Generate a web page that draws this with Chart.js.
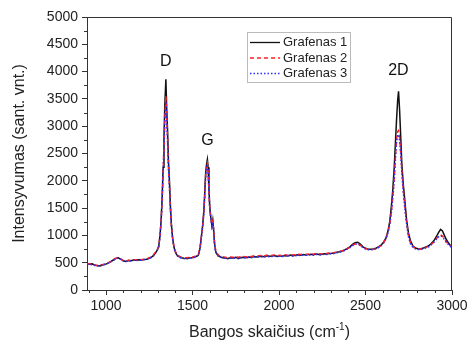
<!DOCTYPE html>
<html>
<head>
<meta charset="utf-8">
<script src="https://cdn.jsdelivr.net/npm/chart.js@4"></script>
<style>
  html, body { margin:0; padding:0; background:#fff; }
  #wrap { width:475px; height:349px; position:relative; }
</style>
</head>
<body>
<div id="wrap"><canvas id="chart"></canvas></div>
<script>
// --- Data ---
const WAVENUMBER = [
  890,905,920,935,950,965,980,995,1010,1025,
  1040,1055,1070,1085,1100,1115,1130,1145,1160,1175,
  1190,1205,1220,1235,1250,1262,1274,1286,1296,1305,
  1312,1318,1324,1330,1335,1340,1346,1351,1356,1361,
  1366,1372,1378,1385,1392,1400,1410,1422,1435,1450,
  1465,1480,1495,1510,1522,1534,1544,1552,1559,1565,
  1571,1576,1581,1586,1590,1595,1600,1606,1612,1617,
  1622,1627,1633,1640,1650,1662,1675,1690,1705,1720,
  1735,1750,1765,1780,1795,1810,1825,1840,1855,1870,
  1885,1900,1915,1930,1945,1960,1975,1990,2005,2020,
  2035,2050,2065,2080,2095,2110,2125,2140,2155,2170,
  2185,2200,2215,2230,2245,2260,2275,2290,2305,2320,
  2335,2350,2365,2380,2395,2410,2425,2440,2455,2470,
  2485,2500,2515,2530,2545,2560,2575,2590,2605,2618,
  2630,2640,2650,2658,2666,2673,2680,2686,2691,2697,
  2703,2710,2718,2727,2737,2748,2760,2775,2790,2805,
  2820,2835,2850,2865,2880,2895,2910,2922,2934,2945,
  2956,2968,2980,2990,3000
];
const GRAFENAS_1 = [
  485,470,478,455,450,442,458,470,488,515,
  545,575,590,565,535,522,540,535,548,545,
  552,548,560,565,580,600,630,680,730,800,
  1000,1250,1650,2250,2800,3400,3860,3300,2900,2350,
  2050,1550,1200,950,800,700,640,610,590,580,
  575,585,590,600,615,640,780,1000,1200,1430,
  1800,2150,2300,2390,2250,1850,1500,1320,1180,1280,
  1100,860,720,660,625,605,590,585,578,590,
  585,598,580,595,600,592,605,598,612,605,
  615,620,610,625,618,622,630,615,625,620,
  632,625,640,628,635,645,638,650,642,648,
  655,645,660,652,650,662,658,668,672,678,
  690,700,715,735,760,790,835,865,875,840,
  790,765,750,745,752,765,790,820,880,950,
  1080,1250,1550,1850,2250,2700,3150,3480,3640,3300,
  2850,2300,1950,1650,1300,1050,900,800,770,750,
  755,770,790,810,850,900,980,1050,1110,1080,
  1000,920,860,820,790
];
const GRAFENAS_2 = [
  478,482,465,462,445,455,465,480,495,520,
  552,580,585,570,540,530,545,545,555,552,
  560,555,565,572,590,612,645,690,740,810,
  1000,1230,1600,2150,2650,3150,3550,3150,2750,2250,
  1950,1500,1180,950,810,710,655,622,600,595,
  590,598,600,612,630,655,790,1000,1180,1400,
  1750,2100,2260,2320,2200,1800,1480,1330,1200,1260,
  1120,880,740,680,640,620,610,600,595,605,
  600,612,598,610,615,605,620,612,625,618,
  628,632,622,640,630,635,642,628,638,632,
  645,638,652,640,648,656,650,660,652,658,
  665,655,670,662,660,672,668,676,680,686,
  695,705,718,735,758,785,820,845,850,820,
  780,760,745,742,748,760,782,815,870,940,
  1060,1200,1450,1720,2050,2450,2780,2900,2920,2800,
  2550,2200,1850,1550,1250,1000,860,790,760,750,
  752,762,780,800,835,880,940,990,1010,990,
  940,880,840,810,790
];
const GRAFENAS_3 = [
  470,468,460,450,440,448,460,468,485,510,
  540,570,585,560,530,518,535,532,545,540,
  548,545,555,562,575,595,625,675,725,790,
  980,1220,1600,2150,2650,3100,3450,3100,2700,2200,
  1920,1480,1160,930,790,690,630,600,585,575,
  570,580,585,595,610,635,770,980,1170,1390,
  1740,2080,2240,2300,2180,1780,1460,1300,1170,1240,
  1080,850,710,650,615,598,585,578,572,582,
  578,590,575,588,592,585,598,590,605,598,
  608,612,602,618,610,615,622,608,618,612,
  625,618,632,620,628,638,630,642,635,640,
  648,638,652,645,642,655,650,660,664,670,
  682,692,705,725,750,775,812,838,845,815,
  775,752,738,735,742,755,778,810,865,935,
  1050,1190,1430,1700,2020,2400,2720,2830,2850,2740,
  2500,2150,1800,1500,1220,980,845,780,750,742,
  745,755,772,792,828,870,930,975,995,975,
  925,870,830,800,780
];
const SERIES_NAMES = ['Grafenas 1', 'Grafenas 2', 'Grafenas 3'];
const X_TICKS = [1000, 1500, 2000, 2500, 3000];
const PEAK_NAMES = ['D', 'G', '2D'];
const PEAK_X = [1346, 1586, 2690];
const PEAK_Y = [4180, 2730, 4010];

const FONT = '"Liberation Sans", Arial, sans-serif';
const AXIS = '#333';

const pts = (ys) => WAVENUMBER.map((x, i) => ({ x, y: ys[i] }));

// frame, minor ticks, peak labels, legend, x title
const decor = {
  id: 'decor',
  afterDraw(chart) {
    const { ctx, chartArea: a, scales: { x: xs, y: ys } } = chart;
    ctx.save();
    ctx.strokeStyle = AXIS;
    ctx.lineWidth = 1;
    ctx.beginPath();
    ctx.moveTo(Math.round(a.left) + 0.5, Math.round(a.top) + 0.5);
    ctx.lineTo(Math.round(a.right) - 0.5, Math.round(a.top) + 0.5);
    ctx.lineTo(Math.round(a.right) - 0.5, Math.round(a.bottom));
    ctx.stroke();

    // minor ticks
    ctx.beginPath();
    for (let v = 900; v < 3000; v += 100) {
      if (v % 500 === 0) continue;
      const px = Math.round(xs.getPixelForValue(v)) + 0.5;
      ctx.moveTo(px, a.bottom); ctx.lineTo(px, a.bottom + 3);
    }
    for (let v = 250; v < 5000; v += 500) {
      const py = Math.round(ys.getPixelForValue(v)) + 0.5;
      ctx.moveTo(a.left, py); ctx.lineTo(a.left - 3, py);
    }
    ctx.stroke();

    // peak labels
    ctx.fillStyle = '#111';
    ctx.font = '16px ' + FONT;
    ctx.textAlign = 'center';
    ctx.textBaseline = 'middle';
    PEAK_NAMES.forEach((t, i) => {
      ctx.fillText(t, xs.getPixelForValue(PEAK_X[i]), ys.getPixelForValue(PEAK_Y[i]));
    });

    // legend
    const lx = 247.5, ly = 32.5, lw = 103, lh = 50;
    ctx.strokeStyle = '#bbb';
    ctx.lineWidth = 1;
    ctx.strokeRect(lx, ly, lw, lh);
    ctx.font = '13px ' + FONT;
    ctx.textAlign = 'left';
    chart.data.datasets.forEach((ds, i) => {
      const yy = 42.5 + i * 15.5;
      ctx.strokeStyle = ds.borderColor;
      ctx.lineWidth = 1.3;
      ctx.setLineDash(ds.borderDash || []);
      ctx.beginPath();
      ctx.moveTo(250, yy); ctx.lineTo(280, yy);
      ctx.stroke();
      ctx.setLineDash([]);
      ctx.fillStyle = '#222';
      ctx.fillText(ds.label, 283, yy);
    });

    // x axis title with superscript
    const main = 'Bangos skaičius (cm', sup = '-1', end = ')';
    ctx.fillStyle = '#222';
    ctx.textBaseline = 'alphabetic';
    ctx.font = '16px ' + FONT;
    const w1 = ctx.measureText(main).width, w3 = ctx.measureText(end).width;
    ctx.font = '10px ' + FONT;
    const w2 = ctx.measureText(sup).width;
    let tx = (a.left + a.right) / 2 - (w1 + w2 + w3) / 2;
    const base = 337;
    ctx.font = '16px ' + FONT;
    ctx.fillText(main, tx, base); tx += w1;
    ctx.font = '10px ' + FONT;
    ctx.fillText(sup, tx, base - 7); tx += w2;
    ctx.font = '16px ' + FONT;
    ctx.fillText(end, tx, base);
    ctx.restore();
  }
};

new Chart(document.getElementById('chart'), {
  type: 'line',
  data: {
    datasets: [
      { label: SERIES_NAMES[0], data: pts(GRAFENAS_1), borderColor: '#111', borderWidth: 1.5, order: 3 },
      { label: SERIES_NAMES[1], data: pts(GRAFENAS_2), borderColor: '#ff1f25', borderWidth: 1.5, borderDash: [4, 3], order: 2 },
      { label: SERIES_NAMES[2], data: pts(GRAFENAS_3), borderColor: '#2f2fff', borderWidth: 1.5, borderDash: [1.5, 2], order: 1 },
    ]
  },
  options: {
    responsive: true, maintainAspectRatio: false, animation: false, devicePixelRatio: 1,
    layout: { padding: { top: 17, right: 23, left: 0, bottom: 0 } },
    elements: { point: { radius: 0 }, line: { tension: 0 } },
    plugins: { legend: { display: false }, tooltip: { enabled: false } },
    scales: {
      x: {
        type: 'linear', min: 890, max: 3000,
        afterBuildTicks: (s) => { s.ticks = X_TICKS.map(v => ({ value: v })); },
        afterFit: (s) => { s.height = 59; },
        ticks: { font: { family: FONT, size: 14 }, color: '#222', padding: 3, maxRotation: 0, autoSkip: false,
                 callback: (v) => String(v) },
        grid: { drawOnChartArea: false, tickLength: 5, color: AXIS },
        border: { color: AXIS, width: 1 },
      },
      y: {
        min: 0, max: 5000,
        afterFit: (s) => { s.width = 87; },
        ticks: { stepSize: 500, font: { family: FONT, size: 14 }, color: '#222', padding: 4,
                 callback: (v) => String(v) },
        grid: { drawOnChartArea: false, tickLength: 5, color: AXIS },
        border: { color: AXIS, width: 1 },
        title: { display: true, text: 'Intensyvumas (sant. vnt.)', color: '#222',
                 font: { family: FONT, size: 16 }, padding: { top: 10, bottom: 0 } },
      }
    }
  },
  plugins: [decor]
});
</script>
</body>
</html>
